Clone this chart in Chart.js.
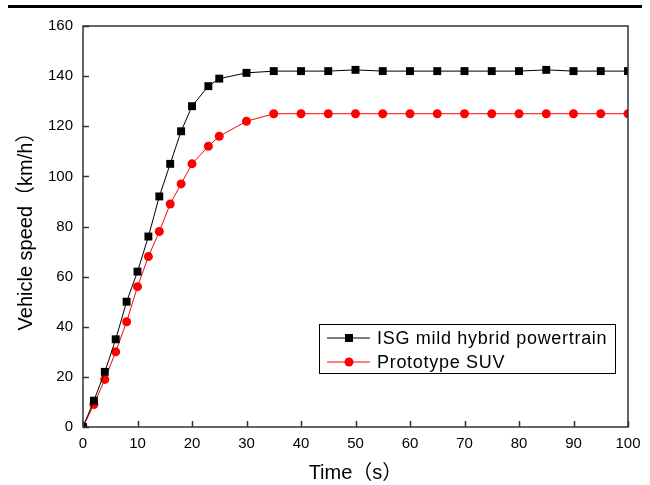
<!DOCTYPE html>
<html>
<head>
<meta charset="utf-8">
<script src="https://cdn.jsdelivr.net/npm/chart.js@4"></script>
<style>
  html, body { margin: 0; padding: 0; background: #fff; }
  #wrap { width: 650px; height: 485px; }
</style>
</head>
<body>
<div id="wrap"><canvas id="grafico" width="650" height="485"></canvas></div>
<script>
// dados
const tempos = [0, 2, 4, 6, 8, 10, 12, 14, 16, 18, 20, 23, 25, 30, 35, 40, 45, 50, 55, 60, 65, 70, 75, 80, 85, 90, 95, 100];
const velocidadeIsg = [0, 10.5, 22, 35, 50, 62, 76, 92, 105, 118, 128, 136, 139, 141.3, 142, 142, 142, 142.5, 142, 142, 142, 142, 142, 142, 142.5, 142, 142, 142];
const velocidadeSuv = [0, 9, 19, 30, 42, 56, 68, 78, 89, 97, 105, 112, 116, 122, 125, 125, 125, 125, 125, 125, 125, 125, 125, 125, 125, 125, 125, 125];
const nomesSeries = ['ISG mild hybrid powertrain', 'Prototype SUV'];
const ticksX = [0, 10, 20, 30, 40, 50, 60, 70, 80, 90, 100];
const ticksY = [0, 20, 40, 60, 80, 100, 120, 140, 160];

const fonte = "'Liberation Sans', Arial, 'Noto Sans CJK SC', sans-serif";

function pares(xs, ys) {
    return xs.map((x, i) => ({ x: x, y: ys[i] }));
}

// moldura, marcas internas, linha do topo e legenda
const decoracao = {
    id: 'decoracao',
    beforeDraw(chart) {
        const ctx = chart.ctx;
        ctx.save();
        ctx.fillStyle = '#000';
        ctx.fillRect(8, 5, 634, 3);
        ctx.restore();
    },
    afterDraw(chart) {
        const ctx = chart.ctx;
        const a = chart.chartArea;
        const sx = chart.scales.x;
        const sy = chart.scales.y;
        ctx.save();
        ctx.strokeStyle = '#333';
        ctx.lineWidth = 1.5;
        ctx.strokeRect(a.left, a.top, a.right - a.left, a.bottom - a.top);
        ctx.beginPath();
        ticksX.forEach(v => {
            const px = Math.round(sx.getPixelForValue(v)) + 0.5;
            ctx.moveTo(px, a.bottom);
            ctx.lineTo(px, a.bottom - 6);
        });
        ticksY.forEach(v => {
            const py = Math.round(sy.getPixelForValue(v)) + 0.5;
            ctx.moveTo(a.left, py);
            ctx.lineTo(a.left + 6, py);
        });
        ctx.stroke();

        // legenda
        const lx = 319, ly = 324, lw = 296, lh = 49;
        ctx.fillStyle = '#fff';
        ctx.fillRect(lx, ly, lw, lh);
        ctx.strokeStyle = '#000';
        ctx.lineWidth = 1;
        ctx.strokeRect(lx + 0.5, ly + 0.5, lw, lh);
        ctx.font = '18px ' + fonte;
        ctx.letterSpacing = '0.7px';
        ctx.textBaseline = 'middle';
        chart.data.datasets.forEach((ds, i) => {
            const cy = ly + 14 + i * 24;
            ctx.strokeStyle = ds.borderColor;
            ctx.fillStyle = ds.borderColor;
            ctx.beginPath();
            ctx.moveTo(327, cy);
            ctx.lineTo(370, cy);
            ctx.stroke();
            if (i === 0) {
                ctx.fillRect(345, cy - 4, 8, 8);
            } else {
                ctx.beginPath();
                ctx.arc(349, cy, 4.5, 0, Math.PI * 2);
                ctx.fill();
            }
            ctx.fillStyle = '#000';
            ctx.fillText(ds.label, 377, cy + 1);
        });
        ctx.restore();
    }
};

new Chart(document.getElementById('grafico'), {
    type: 'line',
    data: {
        datasets: [{
            label: nomesSeries[0],
            data: pares(tempos, velocidadeIsg),
            borderColor: '#000',
            backgroundColor: '#000',
            borderWidth: 1,
            pointStyle: 'rect',
            pointRadius: 5.6,
            pointBorderWidth: 0,
            tension: 0
        }, {
            label: nomesSeries[1],
            data: pares(tempos, velocidadeSuv),
            borderColor: '#ff0000',
            backgroundColor: '#ff0000',
            borderWidth: 1,
            pointStyle: 'circle',
            pointRadius: 4.5,
            pointBorderWidth: 0,
            tension: 0
        }]
    },
    options: {
        responsive: false,
        animation: false,
        devicePixelRatio: 1,
        layout: { padding: { left: 0, top: 26, right: 22, bottom: 0 } },
        plugins: {
            legend: { display: false },
            tooltip: { enabled: false }
        },
        scales: {
            x: {
                type: 'linear',
                min: 0,
                max: 100,
                afterFit: s => { s.height = 58; },
                afterBuildTicks: s => { s.ticks = ticksX.map(v => ({ value: v })); },
                grid: { display: false, drawTicks: false },
                border: { display: false },
                ticks: { color: '#000', padding: 8, font: { family: fonte, size: 15 } },
                title: {
                    display: true,
                    text: 'Time（s）',
                    color: '#000',
                    padding: 0,
                    font: { family: fonte, size: 20 }
                }
            },
            y: {
                min: 0,
                max: 160,
                afterFit: s => { s.width = 83; },
                afterBuildTicks: s => { s.ticks = ticksY.map(v => ({ value: v })); },
                grid: { display: false, drawTicks: false },
                border: { display: false },
                ticks: { color: '#000', padding: 10, font: { family: fonte, size: 15 } },
                title: {
                    display: true,
                    text: 'Vehicle speed（km/h）',
                    color: '#000',
                    padding: { top: 14, bottom: 0 },
                    font: { family: fonte, size: 20 }
                }
            }
        }
    },
    plugins: [decoracao]
});
</script>
</body>
</html>
